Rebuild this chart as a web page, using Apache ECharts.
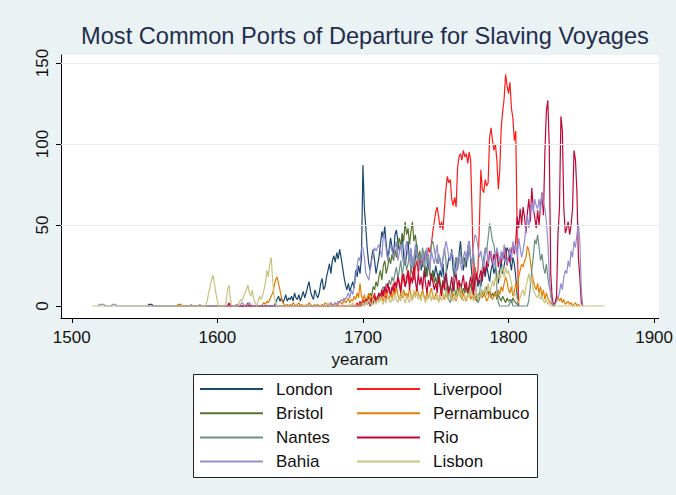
<!DOCTYPE html>
<html>
<head>
<meta charset="utf-8">
<script src="https://cdn.jsdelivr.net/npm/echarts@6/dist/echarts.min.js"></script>
<style>html,body{margin:0;padding:0;background:#eaf2f3;}#c{width:676px;height:495px;}</style>
</head>
<body>
<div id="c"></div>
<script>
// Each series: list of [startYear, [yearly values...]] segments (zero between segments)
const xTicks = [1500, 1600, 1700, 1800, 1900];
const yTicks = [0, 50, 100, 150];

const londonSegs = [
  [1552, [0,1,1,1,0]],
  [1639, [0,
    2,4,6,3,5,2,4,7,3,5,
    4,6,3,8,5,4,7,3,6,9,
    5,8,12,15,9,6,4,10,7,5,
    8,14,17,10,12,18,22,26,20,28,
    31,27,33,29,35,30,24,18,13,10,
    14,9,12,15,11,22,18,25,20,30,
    87,60,48,35,26,22,30,35,28,20,
    25,30,38,46,42,49,38,30,35,42,
    36,30,44,47,40,34,38,44,30,25,
    32,40,28,35,26,22,30,38,24,28,
    22,30,26,18,24,28,20,16,22,18,
    25,20,15,22,18,26,14,20,24,30,
    28,35,22,18,30,26,32,40,28,22,
    30,24,36,40,28,18,10,14,20,12,
    16,12,20,22,18,25,20,15,22,26,
    20,24,18,14,22,28,20,25,30,36,
    34,28,22,30,26,18,5,0]]
];
const liverpoolSegs = [
  [1694, [0,
    0,2,0,3,1,
    4,2,5,3,6,4,2,5,8,3,
    6,4,8,5,10,7,4,9,12,6,
    10,14,8,12,18,15,10,20,16,12,
    18,22,14,25,20,16,24,28,20,30,
    26,30,28,34,30,36,33,38,46,52,
    58,61,55,48,52,47,60,72,80,76,
    78,66,62,67,61,85,92,94,90,96,
    92,94,88,95,90,57,10,24,18,22,
    50,84,72,70,78,74,76,104,110,102,
    96,100,90,72,84,110,120,128,143,136,
    131,138,122,116,102,108,40,0]]
];
const bristolSegs = [
  [1697, [0,
    0,2,
    1,3,2,5,4,8,6,12,10,15,
    12,18,22,16,25,28,20,24,30,26,
    32,28,35,30,38,42,36,45,40,52,
    44,48,38,46,52,40,44,36,30,34,
    28,24,30,22,18,26,20,16,22,14,
    18,12,20,15,10,16,12,8,14,10,
    12,8,15,10,6,12,9,14,7,11,
    8,12,6,10,14,8,4,6,3,5,
    8,5,10,6,9,12,7,10,5,8,
    6,9,4,7,5,3,6,4,2,5,
    3,4,2,5,3,2,1,0]]
];
const pernambucoSegs = [
  [1572, [0,1,1,1,0]],
  [1629, [0,
    0,1,2,1,3,2,4,6,8,12,
    16,18,14,10,5,2,1,0,1,0,
    1,0,2,1,0,1,2,0,1,0,
    0,1,0,2,1,0,0,1,0,1,
    0,0,1,0,2,1,0,1,2,0,
    1,2,0,1,3,2,1,4,2,3,
    5,2,4,3,6,4,8,5,14,6,
    4,7,3,5,8,4,6,3,5,2,
    6,4,8,5,3,7,10,6,4,8,
    5,9,6,12,7,4,8,5,10,6,
    8,5,11,7,4,9,6,12,8,5,
    7,10,6,4,9,5,8,11,6,4,
    8,5,3,7,10,6,4,8,5,9,
    6,4,8,5,3,7,10,6,4,8,
    5,3,7,9,4,6,8,5,3,6,
    4,7,5,8,6,3,5,9,6,4,
    6,8,5,10,7,12,9,14,18,15,
    10,8,12,6,9,14,10,18,22,26,
    24,28,30,37,34,28,20,16,12,10,
    14,8,12,6,10,4,8,5,3,2,
    1,0,2,4,6,3,5,2,4,1,
    2,3,1,2,0,1,2,0,1,0]]
];
const nantesSegs = [
  [1704, [0,
    0,2,1,4,3,
    5,8,6,10,12,9,14,11,16,13,
    18,15,20,24,17,22,28,19,25,30,
    22,26,33,20,28,24,35,30,26,32,
    28,36,30,34,26,32,22,38,40,35,
    30,26,32,28,24,30,36,28,10,4,
    2,6,14,25,30,22,28,34,26,30,
    24,32,28,36,30,26,32,20,6,2,
    4,18,24,30,36,34,42,51,46,40,
    38,30,10,2,0]],
  [1800, [0,2,4,0]],
  [1813, [0,4,12,22,30,41,38,
    44,36,28,32,24,20,26,18,12,8,
    3,0]]
];
const rioSegs = [
  [1607, [0,2,0]],
  [1620, [0,2,0]],
  [1699, [0,
    2,0,4,1,3,0,5,2,6,3,
    5,8,4,10,6,12,8,14,10,7,
    12,9,15,11,18,13,8,16,20,12,
    15,22,10,18,14,24,16,9,20,13,
    18,10,22,14,8,16,12,20,15,10,
    14,8,18,12,6,15,10,20,13,8,
    12,18,9,15,20,11,16,8,14,19,
    10,15,8,13,18,12,7,16,20,14,
    18,22,15,25,20,28,24,34,30,26,
    32,28,35,24,30,26,33,29,36,25,
    30,27,34,38,32,40,55,48,60,50,
    61,55,45,58,66,52,73,60,55,48,
    59,50,62,70,56,95,120,127,98,20,
    5,0,2,6,45,60,117,108,60,45,
    48,52,44,50,60,96,90,70,30,18,
    2,0]]
];
const bahiaSegs = [
  [1518, [0,1,1,1,1,0]],
  [1527, [0,1,1,1,0]],
  [1581, [0,1,0]],
  [1587, [0,1,0]],
  [1612, [0,1,1,0,1,2,1,0,1,1,2,1,0]],
  [1674, [0,
    0,1,0,2,1,
    0,2,1,3,2,4,3,5,4,6,
    8,5,10,7,12,18,25,30,28,36,
    36,30,20,18,16,22,28,32,36,34,
    36,38,34,30,44,42,35,28,32,38,
    34,30,36,40,28,33,38,30,26,35,
    40,32,28,36,24,30,38,34,28,22,
    26,32,24,30,36,28,22,34,30,26,
    32,38,26,30,22,28,34,40,36,30,
    28,34,30,24,20,28,32,26,22,30,
    34,28,36,40,30,26,38,44,42,36,
    30,34,28,24,32,36,26,30,34,28,
    24,30,36,32,26,34,28,38,30,26,
    32,36,28,40,34,38,30,42,36,30,
    34,40,50,56,48,60,64,58,66,62,
    60,66,58,70,64,60,52,40,20,6,
    2,0,1,3,5,8,14,10,18,22,
    20,28,24,34,30,40,36,44,51,40,
    10,0]]
];
const lisbonSegs = [
  [1514, [0]],
  [1592, [0,3,8,12,16,19,14,8,3,0]],
  [1605, [0,2,10,13,4,0]],
  [1614, [0,2,4,3,6,8,10,13,8,6,10,4,2,0,3,6,4,6,10,14,22,18,26,30,16,6,2,0]],
  [1660, [0,1,0]],
  [1675, [0,2,0]],
  [1690, [0,1,0,2,0]],
  [1699, [0,
    2,0,3,1,4,2,0,5,3,1,
    4,2,6,3,1,5,2,7,4,2,
    5,3,8,4,2,6,3,9,5,2,
    6,4,2,7,3,10,5,8,4,6,
    3,8,5,2,6,4,9,3,7,5,
    4,7,2,6,3,8,5,10,4,6,
    8,5,3,7,4,9,6,12,5,3,
    6,4,8,5,10,7,3,6,9,4,
    7,5,10,8,12,6,14,9,11,16,
    12,18,14,22,16,20,25,18,24,20,
    22,18,14,10,6,8,4,2,5,8,
    10,6,12,16,20,14,18,10,8,6,
    5,8,4,6,3,2,4,1,2,0,
    0]],
  [1866, [0]]
];

function build(segs) {
  const out = [];
  segs.forEach(([start, vals]) => vals.forEach((v, i) => out.push([start + i, v])));
  return out;
}

const seriesDefs = [
  ['London', '#1a476f', londonSegs],
  ['Liverpool', '#ff1a1a', liverpoolSegs],
  ['Bristol', '#55752f', bristolSegs],
  ['Pernambuco', '#e37e00', pernambucoSegs],
  ['Nantes', '#6e8e84', nantesSegs],
  ['Rio', '#c10534', rioSegs],
  ['Bahia', '#938dd2', bahiaSegs],
  ['Lisbon', '#cac27e', lisbonSegs]
];

const FONT = 'Liberation Sans, Arial, sans-serif';
const series = [{
  type: 'line', name: '_grid', data: [], silent: true, z: 1,
  markLine: {
    silent: true, symbol: 'none', label: { show: false },
    lineStyle: { color: '#e3ebed', width: 1, type: 'solid' },
    data: [{ yAxis: 50 }, { yAxis: 100 }, { yAxis: 150 }]
  }
}];
seriesDefs.forEach(([name, color, segs]) => {
  series.push({
    type: 'line', name: name, data: build(segs), showSymbol: false, symbol: 'none',
    color: color, lineStyle: { color: color, width: 1.2 }, z: 2,
    emphasis: { disabled: true }
  });
});

const legendCommon = {
  orient: 'vertical', icon: 'rect', itemWidth: 63, itemHeight: 2, itemGap: 6.2,
  padding: 0, selectedMode: false, z: 10,
  textStyle: { fontFamily: FONT, fontSize: 17, color: '#111', lineHeight: 18, padding: [0, 0, 0, 8] }
};

const chart = echarts.init(document.getElementById('c'), null, { renderer: 'svg' });
chart.setOption({
  animation: false,
  backgroundColor: '#eaf2f3',
  title: {
    text: 'Most Common Ports of Departure for Slaving Voyages',
    left: 365, textAlign: 'center', top: 24, padding: 0,
    textStyle: { fontFamily: FONT, fontSize: 23.6, fontWeight: 'normal', color: '#1f2d4e' }
  },
  grid: { left: 61, top: 55, right: 8, bottom: 177, show: true, backgroundColor: '#ffffff', borderWidth: 0 },
  xAxis: {
    type: 'value', min: 1492.6, max: 1903.2,
    name: 'yearam', nameLocation: 'middle', nameGap: 23,
    nameTextStyle: { fontFamily: FONT, fontSize: 17, color: '#111' },
    axisLine: { show: true, onZero: false, lineStyle: { color: '#000', width: 1 } },
    axisTick: { show: true, length: 5, customValues: xTicks, lineStyle: { color: '#000' } },
    axisLabel: { customValues: xTicks, formatter: v => String(v), fontFamily: FONT, fontSize: 17, color: '#111', margin: 11 },
    splitLine: { show: false }
  },
  yAxis: {
    type: 'value', min: -7.4, max: 154.9,
    axisLine: { show: true, lineStyle: { color: '#000', width: 1 } },
    axisTick: { show: true, length: 5, customValues: yTicks, lineStyle: { color: '#000' } },
    axisLabel: { customValues: yTicks, formatter: v => String(v), rotate: 90, fontFamily: FONT, fontSize: 17, color: '#111', margin: 10 },
    splitLine: { show: false }
  },
  legend: [
    Object.assign({}, legendCommon, { left: 200, top: 380, data: ['London', 'Bristol', 'Nantes', 'Bahia'] }),
    Object.assign({}, legendCommon, { left: 357, top: 380, data: ['Liverpool', 'Pernambuco', 'Rio', 'Lisbon'] })
  ],
  graphic: [{
    type: 'rect', left: 193, top: 374, z: 5, silent: true,
    shape: { width: 344, height: 103 },
    style: { fill: '#ffffff', stroke: '#222222', lineWidth: 1 }
  }],
  series: series
});
</script>
</body>
</html>
